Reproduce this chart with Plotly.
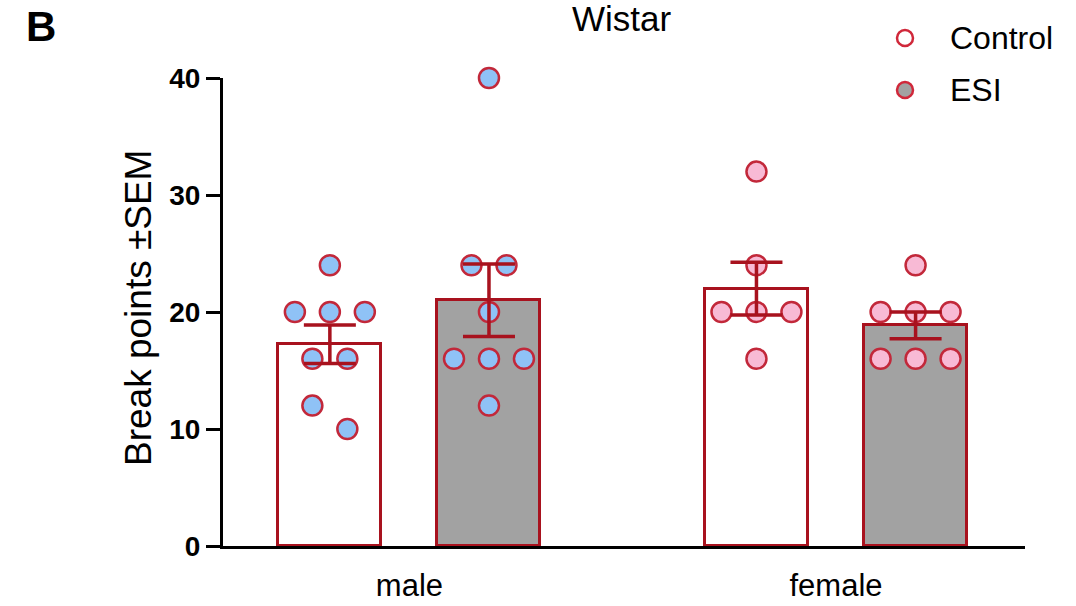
import numpy as np
import plotly.graph_objects as go

# ---- data -------------------------------------------------------------
sexes = ["male", "female"]
groups = ["Control", "ESI"]

male_control = [24, 20, 20, 20, 16, 16, 12, 10]
male_esi = [40, 24, 24, 20, 16, 16, 16, 12]
female_control = [32, 24, 20, 20, 20, 16]
female_esi = [24, 20, 20, 20, 16, 16, 16]

y_ticks = [0, 10, 20, 30, 40]

# ---- styling ----------------------------------------------------------
FONT = "Arial, Liberation Sans, Helvetica, sans-serif"
DARK_RED = "#A8121E"
DOT_EDGE = "#C2283A"
BLUE = "#8FC2F6"
PINK = "#F8BAD5"
GREY = "#A2A2A2"

BAR_OFFSET = 0.1865      # distance of each bar from its group centre
BAR_WIDTH = 0.2415
DOT_STEP = 0.082         # horizontal spacing of dots within a row

sets = [
    (0, 0, male_control, "white", BLUE),
    (0, 1, male_esi, GREY, BLUE),
    (1, 0, female_control, "white", PINK),
    (1, 1, female_esi, GREY, PINK),
]


def swarm_offsets(values):
    """Spread dots that share a value symmetrically; separate near-touching singles."""
    vals = sorted(values, reverse=True)
    rows = []
    for v in vals:
        if rows and rows[-1][0] == v:
            rows[-1][1] += 1
        else:
            rows.append([v, 1])
    xs, ys = [], []
    i = 0
    while i < len(rows):
        v, n = rows[i]
        nxt = rows[i + 1] if i + 1 < len(rows) else None
        if n == 1 and nxt is not None and nxt[1] == 1 and v - nxt[0] < 3:
            xs += [-0.5, 0.5]
            ys += [v, nxt[0]]
            i += 2
            continue
        xs += [(k - (n - 1) / 2) for k in range(n)]
        ys += [v] * n
        i += 1
    return np.array(xs) * DOT_STEP, ys


fig = go.Figure()

bar_x, bar_y, bar_fill, bar_err = [], [], [], []
for g, k, vals, fill, dot in sets:
    arr = np.array(vals, dtype=float)
    bar_x.append(g + (k - 0.5) * 2 * BAR_OFFSET)
    bar_y.append(arr.mean())
    bar_err.append(arr.std(ddof=1) / np.sqrt(len(arr)))
    bar_fill.append(fill)

fig.add_trace(go.Bar(
    x=bar_x, y=bar_y, width=BAR_WIDTH,
    marker=dict(color=bar_fill, line=dict(color=DARK_RED, width=3)),
    showlegend=False, hoverinfo="skip",
))

for (g, k, vals, fill, dot), cx in zip(sets, bar_x):
    offs, ys = swarm_offsets(vals)
    fig.add_trace(go.Scatter(
        x=cx + offs, y=ys, mode="markers", cliponaxis=False,
        marker=dict(size=20, color=dot, line=dict(color=DOT_EDGE, width=2.5)),
        showlegend=False, hoverinfo="skip",
    ))

# mean +/- SEM drawn above the dots
fig.add_trace(go.Scatter(
    x=bar_x, y=bar_y, mode="markers", marker=dict(size=1, color="rgba(0,0,0,0)"),
    error_y=dict(type="data", array=bar_err, visible=True,
                 color=DARK_RED, thickness=3.5, width=26),
    showlegend=False, hoverinfo="skip", cliponaxis=False,
))

fig.update_layout(
    width=1076, height=606,
    margin=dict(l=223, r=51, t=78, b=60, autoexpand=False),
    paper_bgcolor="white", plot_bgcolor="white",
    font=dict(family=FONT, color="black"),
    bargap=0,
    xaxis=dict(
        range=[-0.437, 1.443], tickvals=[0, 1], ticktext=sexes,
        ticks="", showline=True, linewidth=3, linecolor="black",
        showgrid=False, zeroline=False, automargin=False,
        tickfont=dict(size=31, family=FONT), ticklabelstandoff=10,
    ),
    yaxis=dict(
        range=[0, 40], tickvals=y_ticks, ticks="outside", ticklen=14,
        tickwidth=3, tickcolor="black", showline=True, linewidth=3,
        linecolor="black", showgrid=False, zeroline=False, automargin=False,
        tickfont=dict(size=28, family=FONT, weight="bold"),
    ),
)

# axis title, panel letter, header
fig.add_annotation(text="Break points ±SEM", textangle=-90, showarrow=False,
                   xref="paper", yref="paper", x=(138 - 223) / 802, y=(546 - 308) / 468,
                   xanchor="center", yanchor="middle", font=dict(size=37, family=FONT))
fig.add_annotation(text="<b>B</b>", showarrow=False, xref="paper", yref="paper",
                   x=(41 - 223) / 802, y=(546 - 27) / 468, xanchor="center",
                   yanchor="middle", font=dict(size=42, family=FONT))
fig.add_annotation(text="Wistar", showarrow=False, xref="paper", yref="paper",
                   x=(622 - 223) / 802, y=(546 - 40) / 468, xanchor="center",
                   yanchor="bottom", font=dict(size=35, family=FONT))

# legend
legend_items = [(groups[0], "white", 38), (groups[1], GREY, 90)]
for name, fill, py in legend_items:
    yp = (546 - py) / 468
    fig.add_shape(type="circle", xref="paper", yref="paper",
                  xsizemode="pixel", ysizemode="pixel",
                  xanchor=(905 - 223) / 802, yanchor=yp,
                  x0=-8, x1=8, y0=-8, y1=8,
                  fillcolor=fill, line=dict(color="#D0283A", width=2.5))
    fig.add_annotation(text=name, showarrow=False, xref="paper", yref="paper",
                       x=(948 - 223) / 802, y=yp, xanchor="left", yanchor="middle",
                       font=dict(size=32, family=FONT))

fig.write_html("out.html")
